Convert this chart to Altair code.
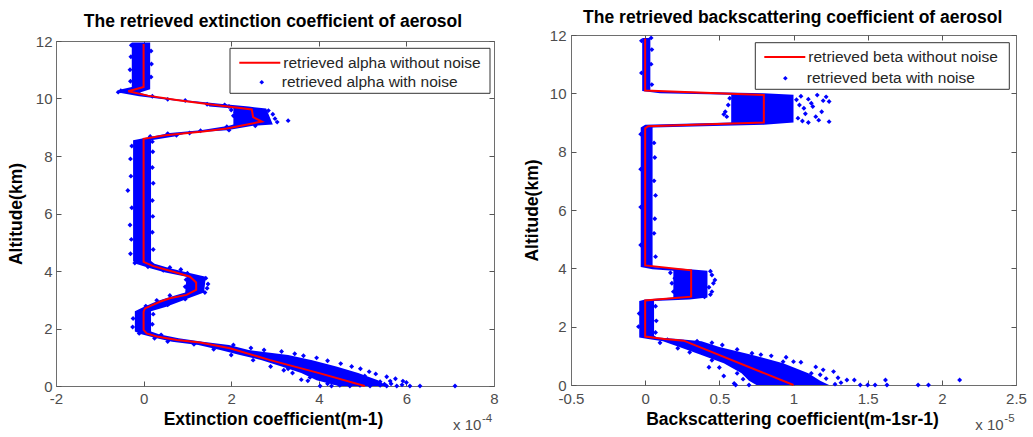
import altair as alt
import pandas as pd

FONT = "Liberation Sans"
BLUE = "#0000ff"
RED = "#ff0000"

# ---------------- left panel: extinction (x in units of 1e-4 m-1) ----------------
alpha_line_alt = [0.0, 0.44, 0.9, 1.31, 1.51, 1.6, 1.72, 1.83, 1.95, 2.58, 2.7, 2.93, 3.05, 3.17,
                  3.34, 3.6, 3.8, 3.94, 4.17, 4.32, 8.6, 8.72, 8.85, 8.96, 9.2, 9.35, 9.62, 9.8,
                  9.95, 10.1, 10.25, 10.4, 11.9]
alpha_line_val = [5.05, 4.03, 2.89, 1.97, 1.29, 0.76, 0.3, 0.07, 0.0, 0.0, 0.03, 0.37, 0.6, 0.98,
                  1.2, 1.2, 1.06, 0.76, 0.22, 0.0, 0.0, 0.5, 1.36, 1.9, 2.7, 2.5, 2.47, 1.5,
                  0.75, 0.1, -0.35, 0.0, 0.0]

alpha_band_alt = [0.0, 0.2, 0.45, 0.68, 0.9, 1.08, 1.25, 1.43, 1.54, 1.66, 1.8, 1.9, 2.6, 2.75,
                  2.95, 3.1, 3.25, 3.8, 3.95, 4.1, 4.25, 4.35, 8.55, 8.68, 8.8, 8.9, 9.05, 9.1,
                  9.65, 9.72, 9.8, 9.95, 10.08, 10.2, 10.32, 10.4, 11.95]
alpha_band_lo = [4.45, 3.95, 3.6, 3.15, 2.7, 2.2, 1.75, 1.25, 0.65, 0.3, -0.05, -0.2, -0.2, 0.0,
                 0.3, 0.6, 0.95, 0.98, 0.5, 0.15, -0.18, -0.24, -0.24, 0.2, 0.6, 1.3, 1.95, 2.05,
                 2.05, 1.5, 1.45, 0.6, -0.1, -0.55, -0.5, -0.27, -0.27]
alpha_band_hi = [5.55, 5.35, 4.9, 4.4, 3.85, 3.3, 2.4, 1.95, 1.35, 0.8, 0.35, 0.17, 0.17, 0.5,
                 0.85, 1.1, 1.38, 1.42, 1.0, 0.6, 0.25, 0.17, 0.17, 0.7, 1.0, 1.9, 2.5, 2.95,
                 2.8, 2.4, 1.85, 0.9, 0.2, -0.1, 0.15, 0.15, 0.15]

alpha_pts_val = [4.03, 4.29, 4.48, 4.71, 4.94, 5.17, 5.4, 5.55, 5.78, 5.9, 6.08, 6.31, 7.11,
                 5.12, 5.4, 5.63, 5.92, 6.0, 5.75, 5.55, 5.3, 5.15, 4.95, 4.75, 4.5, 4.2, 3.95,
                 3.65, 3.45, 3.15, 2.75, 2.45, 2.05,
                 3.6, 3.4, 3.2, 2.9, 2.5, 2.0, 1.6, 1.15, 0.55, 0.25,
                 4.2, 4.35, 5.65, 5.5, 3.8, 3.75, 5.2, 5.05, 3.3, 4.6,
                 -0.1, 0.4, -0.25, 0.2, -0.24, 0.22, 0.05, 0.55, 0.3, 0.95, 0.6, 1.4, 1.45, 1.47,
                 0.95, 0.97, 1.42, 1.0, 0.45, 0.85, 0.1, 0.6, -0.2,
                 -0.3, 0.22, -0.28, 0.2, -0.31, 0.21, -0.27, 0.2, -0.36, 0.22, -0.29, 0.2, -0.3,
                 0.21, -0.27, 0.2,
                 0.15, 0.75, 0.55, 1.05, 1.3, 1.95, 1.9, 2.55, 3.3, 3.05, 3.0, 2.95, 2.85, 2.05,
                 2.1, 2.0, 1.95, 1.45, 1.85, 0.95, 0.55, 0.2, -0.58, -0.52, -0.1,
                 -0.3, 0.17, -0.31, 0.18, -0.29, 0.17, -0.28]
alpha_pts_alt = [0.0, 0.0, 0.02, 0.0, 0.02, 0.0, 0.02, 0.0, 0.0, 0.04, 0.0, 0.0, 0.0,
                 0.17, 0.15, 0.17, 0.17, 0.12, 0.25, 0.32, 0.42, 0.5, 0.6, 0.68, 0.78, 0.88, 0.98,
                 1.05, 1.12, 1.2, 1.25, 1.32, 1.43,
                 0.22, 0.45, 0.55, 0.68, 0.9, 1.08, 1.28, 1.45, 1.55, 1.66,
                 0.08, 0.12, 0.08, 0.06, 0.3, 0.18, 0.1, 0.35, 0.6, 0.22,
                 1.83, 1.78, 2.05, 2.15, 2.35, 2.5, 2.78, 2.82, 2.98, 3.02, 3.15, 3.25, 3.4, 3.55,
                 3.45, 3.7, 3.75, 3.92, 4.02, 4.05, 4.15, 4.12, 4.28,
                 4.6, 4.75, 5.1, 5.35, 5.6, 5.9, 6.2, 6.45, 6.8, 7.05, 7.3, 7.6, 7.9,
                 8.15, 8.35, 8.5,
                 8.68, 8.72, 8.78, 8.8, 8.88, 8.9, 9.02, 9.05, 9.23, 9.18, 9.3, 9.45, 9.58, 9.4,
                 9.52, 9.6, 9.72, 9.8, 9.78, 9.93, 9.97, 10.08, 10.22, 10.27, 10.25,
                 10.6, 10.75, 11.0, 11.2, 11.45, 11.65, 11.85]

# ---------------- right panel: backscattering (x in units of 1e-5 m-1 sr-1) ----------------
beta_line_alt = [0.0, 1.52, 1.58, 1.66, 2.9, 3.03, 3.93, 4.1, 8.8, 8.87, 9.0, 9.94, 10.1, 11.88]
beta_line_val = [1.0, 0.26, 0.13, 0.0, 0.0, 0.31, 0.31, 0.0, 0.0, 0.02, 0.8, 0.8, 0.0, 0.0]

beta_band_alt = [0.0, 0.15, 0.4, 0.75, 1.05, 1.3, 1.5, 1.58, 1.63, 1.7, 2.88, 2.93, 3.0, 3.92,
                 3.97, 4.05, 8.83, 8.92, 9.0, 9.95, 10.0, 10.08, 11.9]
beta_band_lo = [0.75, 0.7, 0.65, 0.53, 0.37, 0.23, 0.12, 0.02, -0.04, -0.04, -0.04, 0.0, 0.19,
                0.19, 0.05, -0.03, -0.03, 0.0, 0.58, 0.58, 0.1, -0.02, -0.02]
beta_band_hi = [1.24, 1.18, 1.1, 0.93, 0.71, 0.5, 0.38, 0.22, 0.08, 0.06, 0.06, 0.3, 0.42,
                0.42, 0.3, 0.05, 0.05, 0.8, 1.0, 1.0, 0.8, 0.035, 0.035]

beta_pts_val = [0.61, 1.36, 1.41, 1.45, 1.5, 1.55, 1.62, 1.63, 1.84, 1.91, 2.12, 1.27, 1.32,
                1.2, 1.05, 1.0, 0.93, 0.72, 0.62, 0.52, 0.22, 0.53, 0.43, 0.6, 0.85, 0.78, 0.45,
                0.35, 0.3, 0.5, 0.45, 1.15, 1.18, 0.95, 1.3, 0.68, 0.4, 0.1, 0.15,
                0.7, 1.28, 0.66, 1.22, 0.62, 1.12,
                0.45, 0.46, 0.45, 0.4, 0.18, 0.19, 0.2, 0.44, 0.47, 0.43, 0.44, 0.17,
                1.16, 1.22, 1.12, 1.19, 1.24, 1.17, 1.07, 0.57, 0.54, 1.05, 1.1, 1.2, 1.24, 1.08,
                1.03, 1.1, 1.04, 0.55, 0.53, 1.13, 1.06, 0.56, 1.15, 1.02,
                0.07, -0.045, 0.075, -0.04, 0.07, 0.07, -0.03, 0.06, 0.065, -0.03, 0.07, 0.06,
                -0.03, 0.065, 0.06, -0.03, 0.045, -0.025, 0.04, 0.045, -0.025, 0.04]
beta_pts_alt = [0.0, 0.17, 0.17, 0.0, 0.0, 0.0, 0.17, 0.0, 0.0, 0.0, 0.17, 0.46, 0.08,
                0.52, 0.78, 0.8, 0.8, 1.09, 1.22, 1.37, 1.26, 0.31, 0.61, 0.05, 1.0, 1.04, 1.45,
                1.5, 1.12, 0.6, 0.85, 0.62, 0.35, 0.95, 0.25, 0.45, 1.2, 1.45, 1.55,
                0.0, 0.03, 0.2, 0.22, 0.4, 0.4,
                3.77, 3.49, 3.2, 3.02, 3.49, 3.2, 3.66, 3.9, 3.6, 3.35, 3.1, 3.85,
                9.94, 9.88, 9.66, 9.37, 9.03, 9.08, 9.49, 9.83, 9.37, 9.9, 9.8, 9.75, 9.72, 9.3,
                9.15, 9.0, 9.6, 9.2, 9.28, 9.55, 9.05, 9.6, 9.2, 9.78,
                1.8, 2.0, 2.2, 2.45, 2.7, 4.4, 4.8, 5.2, 5.7, 6.1, 6.5, 7.0,
                7.4, 7.8, 8.3, 8.6, 10.3, 10.7, 11.0, 11.5, 11.8, 11.9]

# ---------------- axes / text ----------------
alpha_ticks = [-2, 0, 2, 4, 6, 8]
beta_ticks = [-0.5, 0, 0.5, 1, 1.5, 2, 2.5]
alt_ticks = [0, 2, 4, 6, 8, 10, 12]
alpha_domain = [-2, 8]
beta_domain = [-0.5, 2.5]
alt_domain = [0, 12]

titles = ["The retrieved extinction coefficient of aerosol",
          "The retrieved backscattering coefficient of aerosol"]
x_titles = ["Extinction coefficient(m-1)", "Backscattering coefficient(m-1sr-1)"]
y_title = "Altitude(km)"
legend_line = ["retrieved alpha without noise", "retrieved beta without noise"]
legend_pts = ["retrieved alpha with noise", "retrieved beta with noise"]
exp_base = ["x 10", "x 10"]
exp_pow = ["-4", "-5"]

W, H = 960, 351

# pixel geometry of each panel inside the shared group
geo = [
    dict(x0=0, x1=438, yt=6, yb=351, lpx=17.5, lpy=4,
         xtx=217, xty=38.5, ytx=-34.7, yty=178.5,
         tx=217, ty=-7.7,
         lx=182.3, ly=6.2, llo=2, px=198.0, py=39.5, plo=12.3,
         box=(174, 434, 13.3, 58.3),
         ex=397, ey=395, epx=426, epy=386.7),
    dict(x0=515, x1=960, yt=0, yb=350, lpx=18, lpy=5,
         xtx=736, xty=39.5, ytx=-33.7, yty=175,
         tx=736.7, ty=-12.3,
         lx=707.3, ly=0.5, llo=2, px=721.6, py=35.5, plo=13.7,
         box=(699.3, 953.3, 7.7, 54.3),
         ex=919.3, ey=395, epx=948.3, epy=386.7),
]


def panel(i, line_alt, line_val, band_alt, band_lo, band_hi, pts_val, pts_alt, xdom, xticks):
    g = geo[i]
    ob = g["yb"] - H
    ot = -g["yt"]
    ol = -g["x0"]
    orr = g["x1"] - W
    xs = alt.Scale(domain=xdom, range=[g["x0"], g["x1"]], nice=False, zero=False)
    ys = alt.Scale(domain=alt_domain, range=[g["yb"], g["yt"]], nice=False, zero=False)

    line_df = pd.DataFrame({"v": line_val, "alt": line_alt, "s": legend_line[i]})
    band_df = pd.DataFrame({"lo": band_lo, "hi": band_hi, "alt": band_alt})
    pts_df = pd.DataFrame({"v": pts_val, "alt": pts_alt, "s": legend_pts[i]})

    ax_bottom = alt.Axis(orient="bottom", offset=ob, values=xticks, labelExpr="datum.value + ''",
                         ticks=False, tickSize=0, domain=True, labelPadding=g["lpx"],
                         labelBaseline="alphabetic", labelFlush=False, labelOverlap=False,
                         title=x_titles[i], titleX=g["xtx"], titleY=g["xty"],
                         titleBaseline="alphabetic", titleAlign="center", titleAngle=0)
    ax_left = alt.Axis(orient="left", offset=ol, values=alt_ticks, ticks=False, tickSize=0,
                       domain=True, labelPadding=g["lpy"], labelFlush=False, labelOverlap=False,
                       title=y_title, titleX=g["ytx"], titleY=g["yty"], titleAngle=270,
                       titleBaseline="alphabetic", titleAlign="center")
    ax_top = alt.Axis(orient="top", offset=ot, values=xticks, labels=False, ticks=False,
                      tickSize=0, domain=True, title=None)
    ax_right = alt.Axis(orient="right", offset=orr, values=alt_ticks, labels=False, ticks=False,
                        tickSize=0, domain=True, title=None)
    tk_bottom = alt.Axis(orient="bottom", offset=ob - 5, values=xticks, labels=False,
                         domain=False, ticks=True, tickSize=5, title=None)
    tk_top = alt.Axis(orient="top", offset=ot - 5, values=xticks, labels=False,
                      domain=False, ticks=True, tickSize=5, title=None)
    tk_left = alt.Axis(orient="left", offset=ol - 5, values=alt_ticks, labels=False,
                       domain=False, ticks=True, tickSize=5, title=None)
    tk_right = alt.Axis(orient="right", offset=orr - 5, values=alt_ticks, labels=False,
                        domain=False, ticks=True, tickSize=5, title=None)

    band = alt.Chart(band_df).mark_area(orient="horizontal", color=BLUE, opacity=1).encode(
        x=alt.X("lo:Q", scale=xs, axis=ax_bottom),
        x2="hi:Q",
        y=alt.Y("alt:Q", scale=ys, axis=ax_left),
    )
    pts = alt.Chart(pts_df).mark_point(shape="diamond", filled=True, size=24, opacity=1,
                                       strokeWidth=0).encode(
        x=alt.X("v:Q", scale=xs, axis=ax_top),
        y=alt.Y("alt:Q", scale=ys, axis=ax_right),
        fill=alt.Fill("s:N", scale=alt.Scale(domain=[legend_pts[i]], range=[BLUE]),
                      legend=alt.Legend(title=None, orient="none", legendX=g["px"],
                                        legendY=g["py"], symbolType="diamond", symbolSize=22,
                                        symbolStrokeWidth=0, labelOffset=g["plo"], padding=0,
                                        labelLimit=0)),
    )
    line = alt.Chart(line_df).mark_line(strokeWidth=2).encode(
        x=alt.X("v:Q", scale=xs, axis=tk_bottom),
        y=alt.Y("alt:Q", scale=ys, axis=tk_left),
        order="alt:Q",
        stroke=alt.Stroke("s:N", scale=alt.Scale(domain=[legend_line[i]], range=[RED]),
                          legend=alt.Legend(title=None, orient="none", legendX=g["lx"],
                                            legendY=g["ly"], symbolType="stroke",
                                            symbolSize=1681, symbolStrokeWidth=2,
                                            labelOffset=g["llo"], padding=0, labelLimit=0)),
    )
    tick_layer = alt.Chart(line_df).mark_point(opacity=0).encode(
        x=alt.X("v:Q", scale=xs, axis=tk_top),
        y=alt.Y("alt:Q", scale=ys, axis=tk_right),
    )
    bx = g["box"]
    box = alt.Chart(pd.DataFrame({"k": [0]})).mark_rect(
        fill="white", stroke="#333333", strokeWidth=1).encode(
        x=alt.value(bx[0]), x2=alt.value(bx[1]), y=alt.value(bx[2]), y2=alt.value(bx[3]))
    title = alt.Chart(pd.DataFrame({"t": [titles[i]]})).mark_text(
        font=FONT, fontSize=17.5, fontWeight="bold", color="black", align="center",
        baseline="alphabetic").encode(text="t:N", x=alt.value(g["tx"]), y=alt.value(g["ty"]))
    e1 = alt.Chart(pd.DataFrame({"t": [exp_base[i]]})).mark_text(
        font=FONT, fontSize=15, color="#4d4d4d", align="left", baseline="alphabetic").encode(
        text="t:N", x=alt.value(g["ex"]), y=alt.value(g["ey"]))
    e2 = alt.Chart(pd.DataFrame({"t": [exp_pow[i]]})).mark_text(
        font=FONT, fontSize=11.5, color="#4d4d4d", align="left", baseline="alphabetic").encode(
        text="t:N", x=alt.value(g["epx"]), y=alt.value(g["epy"]))

    return alt.layer(band, pts, line, tick_layer, box, title, e1, e2).resolve_axis(
        x="independent", y="independent")


left = panel(0, alpha_line_alt, alpha_line_val, alpha_band_alt, alpha_band_lo, alpha_band_hi,
             alpha_pts_val, alpha_pts_alt, alpha_domain, alpha_ticks)
right = panel(1, beta_line_alt, beta_line_val, beta_band_alt, beta_band_lo, beta_band_hi,
              beta_pts_val, beta_pts_alt, beta_domain, beta_ticks)

chart = (
    alt.layer(left, right)
    .resolve_scale(x="independent", y="independent", fill="independent", stroke="independent")
    .resolve_axis(x="independent", y="independent")
    .resolve_legend(fill="independent", stroke="independent")
    .properties(width=W, height=H, autosize=alt.AutoSizeParams(type="none"),
                padding={"left": 56, "top": 35, "right": 17, "bottom": 51})
    .configure_view(strokeWidth=0)
    .configure_axis(grid=False, domainColor="#6e6e6e", tickColor="#555555", labelFont=FONT,
                    labelFontSize=15, labelColor="#4d4d4d", titleFont=FONT, titleFontSize=17.5,
                    titleFontWeight="bold", titleColor="black")
    .configure_legend(labelFont=FONT, labelFontSize=15.5, labelColor="#262626")
)

chart.save("out.html", embed_options={"renderer": "svg", "actions": False})
